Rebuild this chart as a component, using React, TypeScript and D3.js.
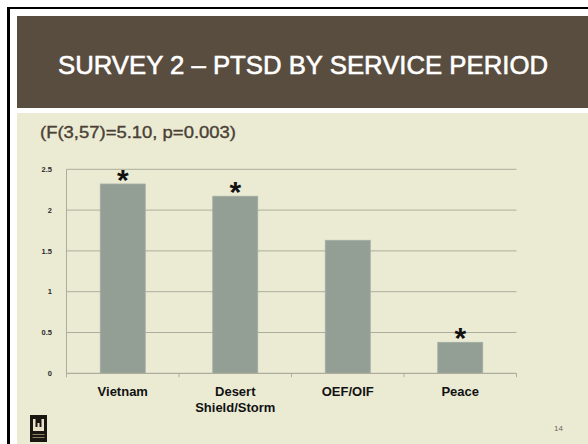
import React from "react";
import * as d3 from "d3";

const categories: string[][] = [["Vietnam"], ["Desert", "Shield/Storm"], ["OEF/OIF"], ["Peace"]];
const values: number[] = [2.32, 2.17, 1.63, 0.38];
const significant: boolean[] = [true, true, false, true];
const yTicks: number[] = [0, 0.5, 1, 1.5, 2, 2.5];
const yTickLabels: string[] = ["0", "0.5", "1", "1.5", "2", "2.5"];
const titleText = "SURVEY 2 – PTSD BY SERVICE PERIOD";
const subtitleText = "(F(3,57)=5.10, p=0.003)";
const pageNumber = "14";

const W = 588;
const H = 444;

export default function App() {
  const x = d3.scaleBand<number>().domain(categories.map((_, i) => i)).range([66.5, 516.5]).padding(0);
  const y = d3.scaleLinear().domain([0, 2.5]).range([373.3, 169.3]);
  const bw = x.bandwidth() * 0.4;
  const font = "'Liberation Sans', Arial, sans-serif";
  const grid = "#adad9d";

  return (
    <svg width={W} height={H} style={{ position: "absolute", left: 0, top: 0, display: "block" }}>
      <rect x={0} y={0} width={W} height={H} fill="#ffffff" />
      {/* frame */}
      <rect x={7} y={7} width={W - 7} height={2} fill="#000" />
      <rect x={7} y={7} width={3} height={H - 7} fill="#000" />
      {/* title bar */}
      <rect x={17} y={16} width={W - 17} height={92} fill="#594d3f" />
      <text x={58} y={73.5} fill="#ffffff" stroke="#ffffff" strokeWidth={0.6} fontFamily={font} fontSize={26} textLength={490} lengthAdjust="spacingAndGlyphs">
        {titleText}
      </text>
      {/* content panel */}
      <rect x={17} y={113} width={W - 17} height={H - 113} fill="#ebebd4" />
      <text x={40} y={138.3} fill="#4a4034" stroke="#4a4034" strokeWidth={0.35} fontFamily={font} fontSize={16} textLength={196} lengthAdjust="spacingAndGlyphs">
        {subtitleText}
      </text>

      {/* gridlines */}
      {yTicks.map((t, i) => (
        <g key={"g" + i}>
          {t > 0 && <line x1={66.5} x2={516.5} y1={y(t)} y2={y(t)} stroke={grid} strokeWidth={1} />}
          <text x={52} y={y(t) + 2.7} textAnchor="end" fontFamily={font} fontSize={7.5} fontWeight="bold" fill="#2a2a2a">
            {yTickLabels[i]}
          </text>
        </g>
      ))}
      {/* y axis */}
      <line x1={66.5} x2={66.5} y1={y(2.5)} y2={y(0)} stroke={grid} strokeWidth={1} />

      {/* bars */}
      {values.map((v, i) => {
        const cx = (x(i) as number) + x.bandwidth() / 2;
        return (
          <g key={"b" + i}>
            <rect x={cx - bw / 2} y={y(v)} width={bw} height={y(0) - y(v)} fill="#939f95" stroke="#a3ada3" strokeWidth={0.8} />
            {significant[i] && (
              <text x={cx} y={y(v) + 6} textAnchor="middle" fontFamily={font} fontSize={30} fontWeight="bold" fill="#111">
                *
              </text>
            )}
          </g>
        );
      })}

      {/* x axis */}
      <line x1={66.5} x2={516.5} y1={y(0)} y2={y(0)} stroke={grid} strokeWidth={1.2} />
      {[0, 1, 2, 3, 4].map((k) => {
        const xx = k < 4 ? (x(k) as number) : 516.5;
        return <line key={"t" + k} x1={xx} x2={xx} y1={y(0)} y2={y(0) + 4} stroke={grid} strokeWidth={1} />;
      })}
      {categories.map((lines, i) => {
        const cx = (x(i) as number) + x.bandwidth() / 2;
        return (
          <text key={"c" + i} textAnchor="middle" fontFamily={font} fontSize={13} fontWeight="bold" fill="#111">
            {lines.map((l, j) => (
              <tspan key={j} x={cx} y={395.5 + j * 16.5}>
                {l}
              </tspan>
            ))}
          </text>
        );
      })}

      {/* page number */}
      <text x={554} y={431} fontFamily={font} fontSize={8} fill="#6e6658">
        {pageNumber}
      </text>

      {/* logo */}
      <g>
        <rect x={30} y={415} width={17} height={27} fill="#1a1712" />
        <path d="M33 419 h2.5 v8 h2 v-4 h2 v4 h2 v-8 h2.5 v12 h-11 z" fill="#e8e2c8" />
        <rect x={32.5} y={434} width={12} height={1} fill="#8a7f63" />
        <rect x={32.5} y={437} width={12} height={1} fill="#8a7f63" />
      </g>
    </svg>
  );
}
